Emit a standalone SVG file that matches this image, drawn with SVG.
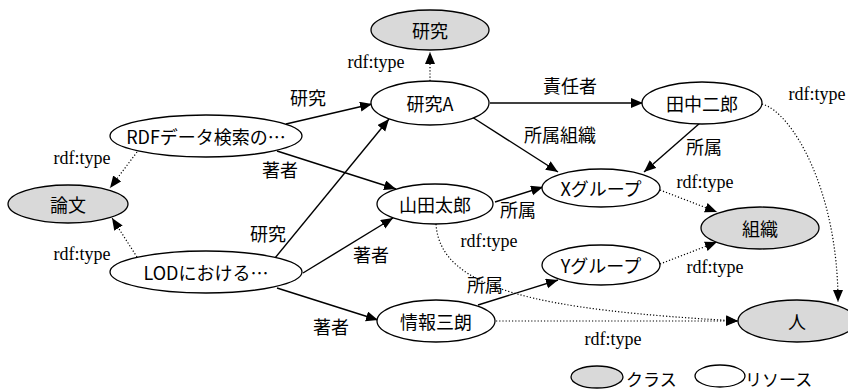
<svg xmlns="http://www.w3.org/2000/svg" width="848" height="390" viewBox="0 0 848 390">
<style>
.n{fill:#fff;stroke:#000;stroke-width:1.3}
.c{fill:#d9d9d9;stroke:#000;stroke-width:1.3}
.t{font-family:"Noto Sans CJK JP","Noto Sans",sans-serif;font-size:18px;fill:#000;text-anchor:middle;dominant-baseline:central}
.lb{font-family:"Noto Sans CJK JP","Noto Sans",sans-serif;font-size:18px;fill:#000;text-anchor:middle}
.rt{font-family:"Liberation Serif","Times New Roman",serif;font-size:18px;fill:#000;text-anchor:middle}
.lg{font-family:"Noto Sans CJK JP","Noto Sans",sans-serif;font-size:17px;fill:#000}
.e{fill:none;stroke:#000;stroke-width:1.4;marker-end:url(#ah)}
.d{fill:none;stroke:#000;stroke-width:1.2;stroke-dasharray:1.2 2;marker-end:url(#ah)}
</style>
<defs>
<marker id="ah" markerUnits="userSpaceOnUse" markerWidth="14" markerHeight="12" refX="12" refY="5" orient="auto">
<path d="M0,0 L12,5 L0,10 Z" fill="#000"/>
</marker>
</defs>
<g id="edges">
<path class="e" d="M286,124 L372,104"/>
<path class="e" d="M277,151 L396,189"/>
<path class="e" d="M275,258 L389,119"/>
<path class="e" d="M303,273 L393,218"/>
<path class="e" d="M277,288 L378,320"/>
<path class="e" d="M490,103 L643,103"/>
<path class="e" d="M472,117 L558,172"/>
<path class="e" d="M700,123 L644,172"/>
<path class="e" d="M495,202 L543,187"/>
<path class="e" d="M478,305 L558,280"/>
<path class="d" d="M137,152 L110,188"/>
<path class="d" d="M137,257 L112,218"/>
<path class="d" d="M430,81 L430,52"/>
<path class="d" d="M660,190 L717,212"/>
<path class="d" d="M660,264 L717,242"/>
<path class="d" d="M762,104 C792,112 838,190 838,302"/>
<path class="d" d="M436,224 C440,290 540,310 738,321"/>
<path class="d" d="M496,321 L738,321"/>
<text class="lb" x="308" y="105">研究</text>
<text class="lb" x="280" y="177">著者</text>
<text class="lb" x="268" y="241">研究</text>
<text class="lb" x="371" y="262">著者</text>
<text class="lb" x="331" y="334">著者</text>
<text class="lb" x="570" y="93">責任者</text>
<text class="lb" x="560" y="142">所属組織</text>
<text class="lb" x="704" y="154">所属</text>
<text class="lb" x="518" y="217">所属</text>
<text class="lb" x="485" y="292">所属</text>
<text class="rt" x="376" y="68">rdf:type</text>
<text class="rt" x="82" y="164">rdf:type</text>
<text class="rt" x="82" y="260">rdf:type</text>
<text class="rt" x="817" y="100">rdf:type</text>
<text class="rt" x="705" y="188">rdf:type</text>
<text class="rt" x="715" y="273">rdf:type</text>
<text class="rt" x="489" y="247">rdf:type</text>
<text class="rt" x="613" y="345">rdf:type</text>
</g>
<g id="n_kenkyu"><ellipse class="c" cx="430" cy="30" rx="59" ry="20"/><text class="t" x="430" y="30">研究</text></g>
<g id="n_kenkyuA"><ellipse class="n" cx="430" cy="103" rx="59" ry="22"/><text class="t" x="430" y="103">研究A</text></g>
<g id="n_tanaka"><ellipse class="n" cx="702" cy="103" rx="60" ry="21"/><text class="t" x="702" y="103">田中二郎</text></g>
<g id="n_rdf"><ellipse class="n" cx="206" cy="136" rx="96" ry="21"/><text class="t" x="206" y="136">RDFデータ検索の…</text></g>
<g id="n_ronbun"><ellipse class="c" cx="68" cy="204" rx="60" ry="19"/><text class="t" x="68" y="204">論文</text></g>
<g id="n_lod"><ellipse class="n" cx="206" cy="272" rx="96" ry="21"/><text class="t" x="206" y="272">LODにおける…</text></g>
<g id="n_yamada"><ellipse class="n" cx="435" cy="204" rx="58" ry="20"/><text class="t" x="435" y="204">山田太郎</text></g>
<g id="n_joho"><ellipse class="n" cx="436" cy="321" rx="59" ry="21"/><text class="t" x="436" y="321">情報三朗</text></g>
<g id="n_xg"><ellipse class="n" cx="601" cy="188" rx="59" ry="19"/><text class="t" x="601" y="188">Xグループ</text></g>
<g id="n_yg"><ellipse class="n" cx="601" cy="265" rx="59" ry="20"/><text class="t" x="601" y="265">Yグループ</text></g>
<g id="n_soshiki"><ellipse class="c" cx="760" cy="228" rx="59" ry="21"/><text class="t" x="760" y="228">組織</text></g>
<g id="n_hito"><ellipse class="c" cx="797" cy="321" rx="59" ry="21"/><text class="t" x="797" y="321">人</text></g>
<g id="legend">
<ellipse class="c" cx="597" cy="377" rx="26" ry="11"/><text class="lg" x="626" y="386">クラス</text>
<ellipse class="n" cx="720" cy="376" rx="25" ry="11"/><text class="lg" x="745" y="386">リソース</text>
</g>
</svg>
